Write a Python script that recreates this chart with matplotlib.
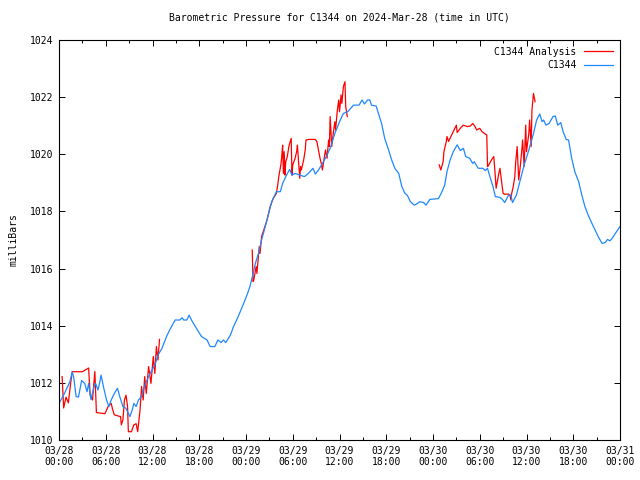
import pandas as pd
import matplotlib
matplotlib.use('Agg')
import matplotlib.pyplot as plt
import matplotlib.dates as mdates

# hours since 2024-03-28 00:00 UTC, pressure in millibars
station_hours = [0.0, 0.7, 1.4, 1.7, 1.9, 2.2, 2.5, 2.9, 3.3, 3.6, 3.8, 4.1, 4.5, 4.7, 5.0, 5.2, 5.4, 5.7,
                 6.1, 6.4, 6.7, 7.1, 7.5, 7.8, 8.2, 8.6, 9.1, 9.4, 9.6, 9.9, 10.2, 10.6, 10.9, 11.3, 11.8,
                 12.3, 12.7, 13.2, 13.8, 14.2, 14.9, 15.5, 15.8, 16.0, 16.4, 16.7, 17.0, 17.5, 17.9, 18.3,
                 19.0, 19.4, 20.0, 20.4, 20.8, 21.1, 21.4, 22.0, 22.4, 23.0, 23.7, 24.2, 24.5, 24.9, 25.2,
                 25.6, 26.0, 26.4, 26.9, 27.3, 27.9, 28.4, 28.7, 29.2, 29.6, 29.9, 30.3, 30.9, 31.5, 32.0,
                 32.6, 32.9, 33.3, 33.7, 34.3, 34.8, 35.4, 36.1, 36.5, 37.1, 37.8, 38.5, 38.9, 39.2, 39.6,
                 39.9, 40.1, 40.7, 41.0, 41.4, 41.8, 42.3, 42.7, 43.1, 43.6, 44.0, 44.4, 44.7, 45.1, 45.6,
                 46.0, 46.3, 46.8, 47.1, 47.6, 48.7, 49.1, 49.5, 49.8, 50.2, 50.6, 51.1, 51.5, 51.9, 52.2,
                 52.7, 53.1, 53.3, 53.8, 54.4, 54.7, 55.0, 55.3, 55.7, 56.0, 56.6, 56.9, 57.2, 57.7, 58.0,
                 58.2, 58.7, 59.2, 59.7, 60.3, 60.9, 61.3, 61.7, 62.0, 62.2, 62.5, 62.9, 63.4, 63.7, 64.0,
                 64.4, 64.7, 65.1, 65.4, 65.8, 66.2, 66.7, 67.1, 67.5, 67.9, 68.4, 68.8, 69.2, 69.7, 70.1,
                 70.4, 70.7, 71.0, 71.4, 72.0]
station_p = [1011.28, 1011.63, 1012.04, 1012.39, 1012.17, 1011.52, 1011.50, 1012.08, 1011.98, 1011.69,
             1011.98, 1011.42, 1011.87, 1011.98, 1011.75, 1011.98, 1012.27, 1011.87, 1011.40, 1011.17,
             1011.40, 1011.63, 1011.81, 1011.52, 1011.17, 1011.11, 1010.82, 1011.05, 1011.28, 1011.17,
             1011.40, 1011.52, 1011.81, 1012.10, 1012.39, 1012.62, 1012.97, 1013.20, 1013.62, 1013.85,
             1014.20, 1014.20, 1014.28, 1014.20, 1014.20, 1014.37, 1014.20, 1013.97, 1013.79, 1013.62,
             1013.50, 1013.27, 1013.27, 1013.50, 1013.41, 1013.50, 1013.41, 1013.67, 1013.97, 1014.32,
             1014.78, 1015.13, 1015.37, 1015.80, 1016.18, 1016.53, 1017.00, 1017.40, 1017.93, 1018.34,
             1018.69, 1018.69, 1018.98, 1019.27, 1019.47, 1019.27, 1019.33, 1019.27, 1019.22, 1019.33,
             1019.51, 1019.31, 1019.45, 1019.63, 1019.92, 1020.21, 1020.73, 1021.20, 1021.43, 1021.50,
             1021.72, 1021.72, 1021.90, 1021.76, 1021.90, 1021.90, 1021.72, 1021.69, 1021.43, 1021.08,
             1020.56, 1020.15, 1019.80, 1019.51, 1019.33, 1018.87, 1018.63, 1018.57, 1018.34, 1018.22,
             1018.28, 1018.34, 1018.31, 1018.22, 1018.42, 1018.45, 1018.66, 1018.92, 1019.40, 1019.80,
             1020.09, 1020.33, 1020.13, 1020.21, 1019.92, 1019.86, 1019.68, 1019.74, 1019.51, 1019.51,
             1019.43, 1019.51, 1019.22, 1018.87, 1018.52, 1018.49, 1018.42, 1018.31, 1018.57, 1018.57,
             1018.31, 1018.57, 1019.10, 1019.63, 1020.15, 1020.73, 1021.20, 1021.41, 1021.14, 1021.20,
             1021.02, 1021.08, 1021.32, 1021.34, 1021.02, 1021.11, 1020.79, 1020.52, 1020.50, 1019.86,
             1019.39, 1019.04, 1018.57, 1018.17, 1017.88, 1017.58, 1017.35, 1017.12, 1016.88, 1016.91,
             1017.02, 1016.97, 1017.06, 1017.23, 1017.47]

# analysis comes in three separate pieces
analysis1_hours = [0.4, 0.6, 0.9, 1.2, 1.5, 1.7, 3.0, 3.5, 3.8, 4.0, 4.3, 4.6, 4.8, 5.9, 6.3, 6.7, 6.9,
                   7.1, 7.6, 7.9, 8.0, 8.2, 8.4, 8.6, 8.8, 8.9, 9.3, 9.6, 9.9, 10.1, 10.4, 10.6, 10.8,
                   11.0, 11.2, 11.5, 11.8, 12.1, 12.3, 12.5, 12.7, 12.9]
analysis1_p = [1012.22, 1011.12, 1011.50, 1011.30, 1012.00, 1012.39, 1012.39, 1012.47, 1012.52, 1011.57,
               1011.40, 1012.40, 1010.96, 1010.92, 1011.17, 1011.28, 1011.05, 1010.88, 1010.84, 1010.82,
               1010.53, 1010.70, 1011.40, 1011.57, 1011.17, 1010.29, 1010.29, 1010.53, 1010.57, 1010.29,
               1011.05, 1011.87, 1011.40, 1012.22, 1011.63, 1012.57, 1011.98, 1012.92, 1012.33, 1013.27,
               1012.80, 1013.52]

analysis2_hours = [24.8, 24.9, 25.0, 25.3, 25.4, 25.7, 25.8, 26.0, 26.7, 27.1, 27.5, 27.9, 28.1, 28.2,
                   28.5, 28.6, 28.7, 28.8, 28.9, 29.0, 29.1, 29.3, 29.5, 29.6, 29.8, 29.9, 30.0, 30.3,
                   30.5, 30.6, 30.7, 30.9, 31.0, 31.1, 31.4, 31.6, 31.7, 32.0, 32.9, 33.1, 33.3, 33.5,
                   33.7, 33.8, 34.0, 34.2, 34.4, 34.6, 34.7, 34.8, 35.0, 35.2, 35.4, 35.5, 35.7, 35.9,
                   36.0, 36.2, 36.3, 36.5, 36.7, 36.8, 37.0]
analysis2_p = [1016.65, 1015.55, 1015.60, 1016.07, 1015.83, 1016.77, 1016.53, 1017.12, 1017.70, 1018.17,
               1018.46, 1018.63, 1018.98, 1019.20, 1019.68, 1019.97, 1020.32, 1019.33, 1020.09, 1019.27,
               1019.74, 1019.92, 1020.27, 1020.38, 1020.56, 1019.27, 1019.63, 1019.86, 1020.09, 1020.32,
               1019.92, 1019.16, 1019.57, 1019.45, 1019.80, 1020.15, 1020.50, 1020.52, 1020.52, 1020.44,
               1020.15, 1019.86, 1019.63, 1019.45, 1019.80, 1020.15, 1019.86, 1020.50, 1020.27, 1021.32,
               1020.27, 1020.73, 1021.14, 1020.85, 1021.49, 1021.90, 1021.49, 1022.08, 1021.78, 1022.37,
               1022.54, 1021.67, 1021.32]

analysis3_hours = [48.8, 49.0, 49.3, 49.4, 49.7, 49.8, 50.0, 50.4, 50.7, 51.0, 51.1, 51.5, 51.9, 52.4,
                   52.8, 53.1, 53.4, 53.6, 54.0, 54.3, 54.7, 54.9, 55.0, 55.1, 55.5, 55.8, 56.0, 56.1,
                   56.3, 56.4, 56.6, 56.8, 57.0, 57.2, 57.7, 57.9, 58.0, 58.1, 58.3, 58.5, 58.6, 58.8,
                   59.0, 59.2, 59.4, 59.5, 59.7, 59.9, 60.0, 60.3, 60.4, 60.6, 60.7, 60.9, 61.1]
analysis3_p = [1019.63, 1019.45, 1019.74, 1020.09, 1020.44, 1020.62, 1020.45, 1020.68, 1020.85, 1021.02,
               1020.76, 1020.91, 1021.02, 1020.97, 1020.99, 1021.08, 1020.97, 1020.85, 1020.91, 1020.79,
               1020.71, 1020.68, 1019.57, 1019.60, 1019.80, 1019.92, 1019.22, 1018.81, 1019.10, 1019.27,
               1019.51, 1019.04, 1018.63, 1018.60, 1018.61, 1018.54, 1018.40, 1018.63, 1018.87, 1019.22,
               1019.68, 1020.27, 1019.10, 1019.57, 1020.15, 1020.50, 1019.57, 1021.02, 1020.09, 1020.73,
               1021.20, 1020.27, 1021.55, 1022.13, 1021.84]

start = pd.Timestamp('2024-03-28 00:00')
def to_time(hours):
    return start + pd.to_timedelta(hours, unit='h')

plt.rcParams['font.family'] = ['DejaVu Sans Mono']
plt.rcParams['font.size'] = 7

fig = plt.figure(figsize=(6.4, 4.8), dpi=100)
ax = fig.add_axes([59/640, 40/480, 561/640, 400/480])

red = '#ff0000'
blue = '#1e88ff'
ax.plot(to_time(analysis1_hours), analysis1_p, color=red, lw=0.9, label='C1344 Analysis')
ax.plot(to_time(analysis2_hours), analysis2_p, color=red, lw=0.9)
ax.plot(to_time(analysis3_hours), analysis3_p, color=red, lw=0.9)
ax.plot(to_time(station_hours), station_p, color=blue, lw=0.9, label='C1344')

ax.set_xlim(start, start + pd.Timedelta(hours=72))
ax.set_ylim(1010, 1024)
ax.set_yticks(range(1010, 1025, 2))
ax.xaxis.set_major_locator(mdates.HourLocator(byhour=[0, 6, 12, 18]))
ax.xaxis.set_minor_locator(mdates.HourLocator(byhour=[3, 9, 15, 21]))
ax.xaxis.set_major_formatter(mdates.DateFormatter('%m/%d\n%H:%M'))
ax.tick_params(which='both', direction='in', top=True, right=True, width=0.7, labelsize=7, pad=4)
ax.tick_params(which='major', length=4.5)
ax.tick_params(which='minor', length=2.5)
for s in ax.spines.values():
    s.set_linewidth(0.8)

ax.set_title('Barometric Pressure for C1344 on 2024-Mar-28 (time in UTC)', fontsize=7, pad=14)
ax.set_ylabel('milliBars', fontsize=7, labelpad=8)
ax.legend(loc='upper right', frameon=False, markerfirst=False, handlelength=3.0,
          handletextpad=0.8, labelspacing=0.35, borderaxespad=0.3, fontsize=7)

plt.savefig('out.png', dpi=100)
